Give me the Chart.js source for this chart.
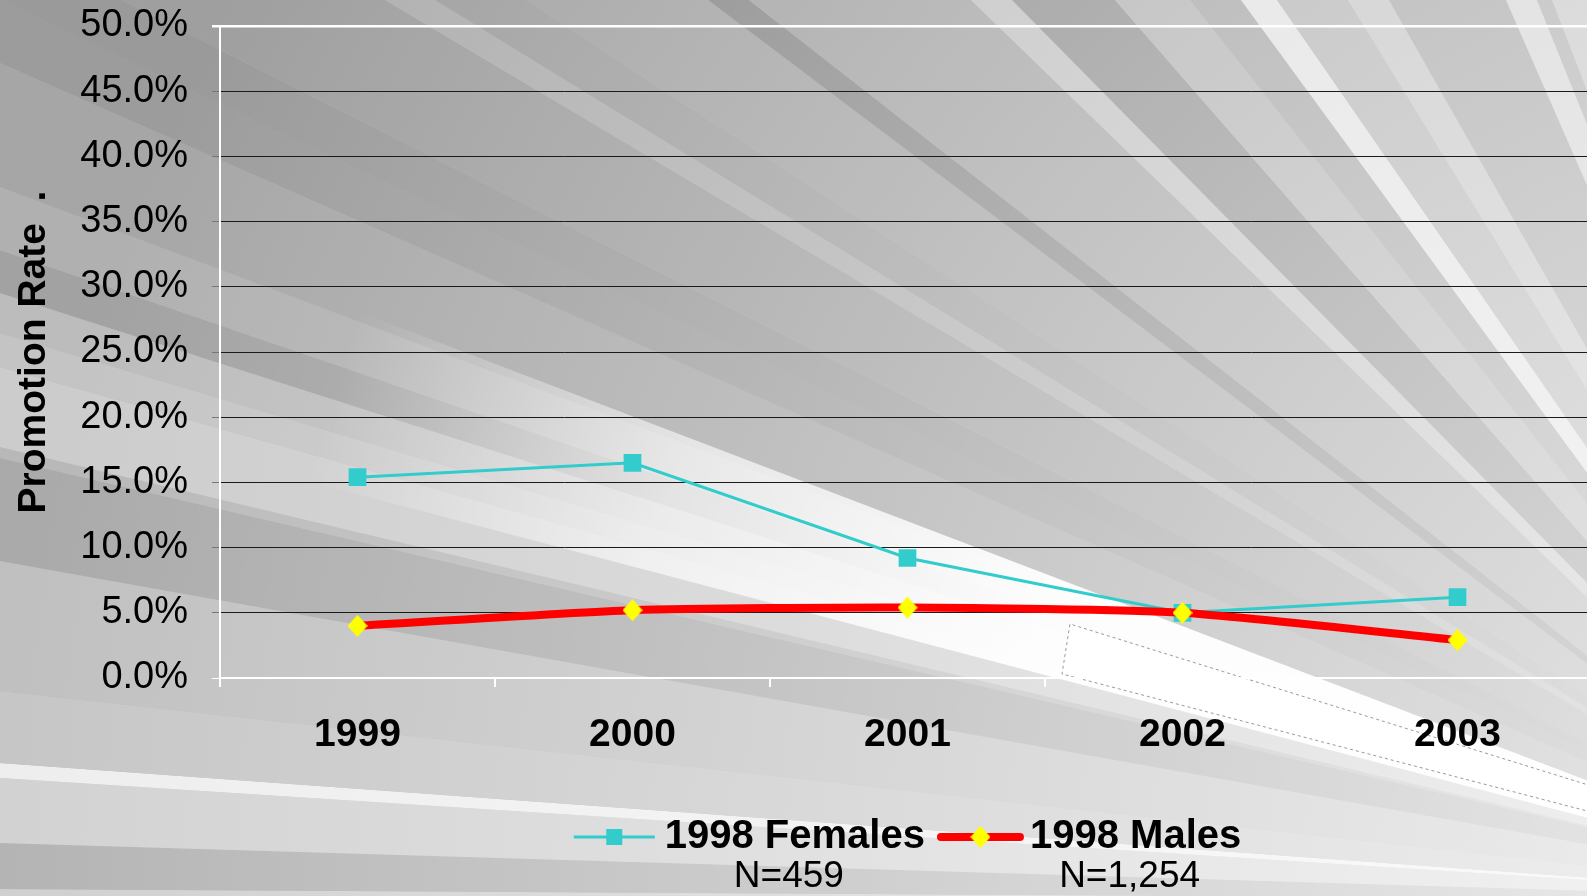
<!DOCTYPE html>
<html>
<head>
<meta charset="utf-8">
<script src="https://cdn.jsdelivr.net/npm/chart.js@4.4.1/dist/chart.umd.min.js"></script>
<style>
  html, body { margin: 0; padding: 0; overflow: hidden; background: #c8c8c8; }
  #wrap { width: 1614px; height: 896px; }
</style>
</head>
<body>
<div id="wrap"><canvas id="chart" width="1614" height="896"></canvas></div>
<script>
// values
const years = ['1999', '2000', '2001', '2002', '2003'];
const females = [15.4, 16.5, 9.2, 5.0, 6.2];
const males = [4.0, 5.2, 5.4, 5.0, 2.9];
const yTicks = [0, 5, 10, 15, 20, 25, 30, 35, 40, 45, 50];
const seriesNames = ['1998 Females', '1998 Males'];
const seriesCounts = ['N=459', 'N=1,254'];

const FONT = '"Liberation Sans", Arial, sans-serif';

function makeDiamond(w, h, color) {
    const c = document.createElement('canvas');
    c.width = w;
    c.height = h;
    const g = c.getContext('2d');
    g.fillStyle = color;
    g.beginPath();
    g.moveTo(w / 2, 0);
    g.lineTo(w, h / 2);
    g.lineTo(w / 2, h);
    g.lineTo(0, h / 2);
    g.closePath();
    g.fill();
    return c;
}
const diamond = makeDiamond(20, 22, '#FFFF00');

// grey light rays behind the chart, all fanning out of one point low on the right
const bgPlugin = {
    id: 'rays',
    beforeDraw(chart) {
        const c = chart.ctx, W = chart.width, H = chart.height;
        const F = [1900, 900];
        const R = 1900;
        const alphaAt = (x, y) => Math.max(0, 0.8 * (1 - Math.hypot(x - F[0], y - F[1]) / R));
        const grey = g => {
            const v = Math.round(Math.min(255, Math.max(0, g)));
            return 'rgb(' + v + ',' + v + ',' + v + ')';
        };
        const wedge = (p1, p2, fill) => {
            const e = p => [F[0] + (p[0] - F[0]) * 4, F[1] + (p[1] - F[1]) * 4];
            const a = e(p1), b = e(p2);
            c.beginPath();
            c.moveTo(F[0], F[1]);
            c.lineTo(a[0], a[1]);
            c.lineTo(b[0], b[1]);
            c.closePath();
            c.fillStyle = fill;
            c.fill();
        };
        const L = y => [0, y], T = x => [x, 0];

        c.save();
        c.fillStyle = '#b8b8b8';
        c.fillRect(0, 0, W, H);

        // left edge, bottom to top: [y1, y2, grey seen at the edge]
        const leftBands = [
            [900, 889, 0xd0], [889, 843, 0xb4], [843, 778, 0xd2], [778, 763, 0xee],
            [763, 691, 0xc6], [691, 561, 0xc0], [561, 458, 0xaa], [458, 447, 0xb8],
            [447, 367, 0xcc], [367, 333, 0xc4], [333, 293, 0xbc], [293, 250, 0xa2],
            [250, 187, 0xb0], [187, 63, 0xa6], [63, 0, 0x9c]
        ];
        leftBands.forEach(b => wedge(L(b[0]), L(b[1]), grey(b[2])));

        // top edge, left to right: [x1, x2, grey seen at the edge]
        const topBands = [
            [0, 122, 0x9a], [122, 385, 0xa0], [385, 435, 0xb4], [435, 526, 0xa8],
            [526, 708, 0xb0], [708, 749, 0x9e], [749, 971, 0xb8], [971, 1012, 0xd0],
            [1012, 1115, 0xae], [1115, 1190, 0xc8], [1190, 1241, 0xc0], [1241, 1277, 0xea],
            [1277, 1348, 0xcc], [1348, 1389, 0xd8], [1389, 1506, 0xc6], [1506, 1537, 0xe4],
            [1537, 1552, 0xcc], [1552, 1700, 0xdc]
        ];
        wedge(L(0), T(1), grey(0x9a));
        topBands.forEach(b => {
            const a = alphaAt((b[0] + b[1]) / 2, 12);
            wedge(T(b[0]), T(b[1]), grey((b[2] - 255 * a) / (1 - a)));
        });

        // everything gets lighter towards the focus
        const ov = c.createRadialGradient(F[0], F[1], 0, F[0], F[1], R);
        ov.addColorStop(0, 'rgba(255,255,255,0.8)');
        ov.addColorStop(1, 'rgba(255,255,255,0)');
        c.fillStyle = ov;
        c.fillRect(0, 0, W, H);

        // bright streak through the middle
        const glow = c.createRadialGradient(F[0], F[1], 0, F[0], F[1], R);
        glow.addColorStop(0, 'rgba(255,255,255,1)');
        glow.addColorStop(900 / R, 'rgba(255,255,255,0.95)');
        glow.addColorStop(1300 / R, 'rgba(255,255,255,0.6)');
        glow.addColorStop(1650 / R, 'rgba(255,255,255,0)');
        wedge(L(400), L(175), glow);

        // white sheet in the lower right
        c.fillStyle = '#ffffff';
        c.beginPath();
        c.moveTo(1070, 624);
        c.lineTo(1614, 793);
        c.lineTo(1614, 818);
        c.lineTo(1062, 674);
        c.closePath();
        c.fill();
        c.strokeStyle = 'rgba(110,110,110,0.7)';
        c.lineWidth = 1;
        c.setLineDash([3, 3]);
        c.beginPath();
        c.moveTo(1614, 793);
        c.lineTo(1070, 624);
        c.lineTo(1062, 674);
        c.lineTo(1614, 818);
        c.stroke();
        c.restore();
    }
};

// two-line legend centred under the plot
const legendPlugin = {
    id: 'nLegend',
    afterDraw(chart) {
        const c = chart.ctx, area = chart.chartArea;
        const ds = chart.data.datasets;
        const lineW = [81, 87];
        const gapText = [10, 6];
        const gapItem = 12;
        c.save();
        c.font = 'bold 40px ' + FONT;
        const widths = ds.map(d => c.measureText(d.label).width);
        const total = lineW[0] + gapText[0] + widths[0] + gapItem + lineW[1] + gapText[1] + widths[1];
        let x = (area.left + area.right) / 2 - total / 2;
        const y1 = chart.height - 59, y2 = chart.height - 19;
        ds.forEach((d, i) => {
            c.strokeStyle = d.borderColor;
            c.lineWidth = d.borderWidth;
            c.lineCap = i === 1 ? 'round' : 'butt';
            c.beginPath();
            c.moveTo(x + (i === 1 ? 4 : 0), y1);
            c.lineTo(x + lineW[i] - (i === 1 ? 4 : 0), y1);
            c.stroke();
            const mx = x + lineW[i] / 2;
            if (i === 0) {
                c.fillStyle = d.backgroundColor;
                c.fillRect(mx - 8, y1 - 8, 16, 16);
            } else {
                c.drawImage(diamond, mx - diamond.width / 2, y1 - diamond.height / 2);
            }
            x += lineW[i] + gapText[i];
            c.fillStyle = '#000';
            c.textBaseline = 'middle';
            c.textAlign = 'left';
            c.font = 'bold 40px ' + FONT;
            c.fillText(d.label, x, y1);
            c.textAlign = 'center';
            c.font = '37px ' + FONT;
            c.fillText(seriesCounts[i], x + widths[i] / 2 - 6, y2);
            x += widths[i] + gapItem;
        });
        c.restore();
    }
};

const edge = v => v === yTicks[0] || v === yTicks[yTicks.length - 1];

new Chart(document.getElementById('chart').getContext('2d'), {
    type: 'line',
    data: {
        labels: years,
        datasets: [{
            label: seriesNames[0],
            data: females,
            borderColor: '#33CCCC',
            backgroundColor: '#33CCCC',
            borderWidth: 3,
            pointStyle: 'rect',
            pointRadius: 12.5,
            pointBorderWidth: 0,
            pointBackgroundColor: '#33CCCC',
            tension: 0,
            order: 1
        }, {
            label: seriesNames[1],
            data: males,
            borderColor: '#FF0000',
            backgroundColor: '#FFFF00',
            borderWidth: 8,
            borderCapStyle: 'round',
            pointStyle: diamond,
            pointRadius: 11,
            tension: 0.2,
            order: 0
        }]
    },
    options: {
        responsive: false,
        animation: false,
        layout: { padding: { top: 26, right: 4, bottom: 0, left: 0 } },
        plugins: {
            legend: { display: false },
            tooltip: { enabled: false }
        },
        scales: {
            x: {
                offset: true,
                grid: {
                    offset: true,
                    drawOnChartArea: false,
                    color: '#ffffff',
                    lineWidth: 2,
                    tickLength: 9
                },
                border: { color: '#ffffff', width: 2 },
                ticks: {
                    color: '#000',
                    padding: 25,
                    font: { family: FONT, size: 39, weight: 'bold' }
                },
                afterFit: scale => { scale.height = 218; }
            },
            y: {
                min: yTicks[0],
                max: yTicks[yTicks.length - 1],
                afterBuildTicks: scale => { scale.ticks = yTicks.map(v => ({ value: v })); },
                grid: {
                    color: ctx => edge(ctx.tick.value) ? '#ffffff' : '#1a1a1a',
                    tickColor: ctx => edge(ctx.tick.value) ? '#ffffff' : '#777777',
                    lineWidth: ctx => ctx.tick.value === yTicks[yTicks.length - 1] ? 2.5 : 1,
                    tickLength: 8
                },
                border: { color: '#ffffff', width: 2 },
                ticks: {
                    color: '#000',
                    padding: 24,
                    font: { family: FONT, size: 38 },
                    callback: v => v.toFixed(1) + '%'
                },
                title: {
                    display: true,
                    text: 'Promotion Rate  .',
                    color: '#000',
                    font: { family: FONT, size: 39, weight: 'bold' },
                    padding: { top: 11, bottom: 0 }
                },
                afterFit: scale => {
                    scale.width = 220;
                    scale.paddingTop = 0;
                    scale.paddingBottom = 0;
                }
            }
        }
    },
    plugins: [bgPlugin, legendPlugin]
});
</script>
</body>
</html>
